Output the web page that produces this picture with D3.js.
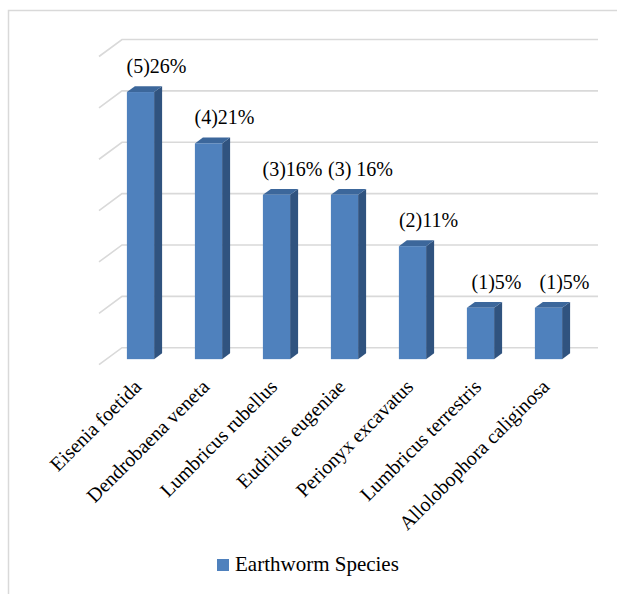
<!DOCTYPE html>
<html>
<head>
<meta charset="utf-8">
<script src="https://cdn.jsdelivr.net/npm/d3@7"></script>
<style>
  html, body { margin: 0; padding: 0; background: #fff; }
  svg { display: block; }
  svg text { font-family: 'Liberation Serif', 'Times New Roman', Tinos, serif; }
</style>
</head>
<body>
<svg id="chart" width="617" height="594" font-family="Liberation Serif"></svg>
<script>
// Earthworm species counts and their share of the total
const species = [
  "Eisenia foetida",
  "Dendrobaena veneta",
  "Lumbricus rubellus",
  "Eudrilus eugeniae",
  "Perionyx excavatus",
  "Lumbricus terrestris",
  "Allolobophora caliginosa"
];
const counts = [5, 4, 3, 3, 2, 1, 1];
const percents = [26, 21, 16, 16, 11, 5, 5];
const valueLabels = ["(5)26%", "(4)21%", "(3)16%", "(3) 16%", "(2)11%", "(1)5%", "(1)5%"];
const yTicks = [0, 5, 10, 15, 20, 25, 30];
const seriesName = "Earthworm Species";

const FONT = "'Liberation Serif'";

const svg = d3.select("#chart");

// outer chart frame
svg.append("rect")
  .attr("x", 8.5).attr("y", 10.5)
  .attr("width", 640).attr("height", 620)
  .attr("fill", "#fff").attr("stroke", "#d9d9d9").attr("stroke-width", 1.5);

// 3D layout: front plane, plus a depth vector pointing to the back wall
const front = { left: 99, right: 575 };
const depth = { dx: 23, dy: -17 };
const barDepth = { dx: 8, dy: -5.9 };
const barInset = 7.5; // distance of a bar's front face behind the front plane (in x)
const insetY = barInset * depth.dy / depth.dx;

const x = d3.scaleBand()
  .domain(species)
  .range([front.left, front.right])
  .paddingInner(0.6)
  .paddingOuter(0.3);

const y = d3.scaleLinear()
  .domain([0, 30])
  .range([364.7, 56.5]);

// gridlines: short floor diagonal, then across the back wall
const grid = svg.append("g").attr("fill", "none").attr("stroke", "#d9d9d9").attr("stroke-width", 1.6);
yTicks.forEach(t => {
  const yf = y(t);
  const xb = front.left + depth.dx, yb = yf + depth.dy;
  grid.append("path")
    .attr("d", `M${front.left},${yf}L${xb},${yb}L${front.right + depth.dx},${yb}`);
});

// bars
const colors = { front: "#4f81bd", side: "#30537f", top: "#3c679b" };
const bars = svg.append("g");
species.forEach((s, i) => {
  const v = percents[i];
  const x0 = x(s) + barInset, x1 = x0 + x.bandwidth();
  const yTop = y(v) + insetY, yBot = y(0) + insetY;
  const g = bars.append("g");
  // side face
  g.append("path")
    .attr("d", `M${x1},${yTop}L${x1 + barDepth.dx},${yTop + barDepth.dy}L${x1 + barDepth.dx},${yBot + barDepth.dy}L${x1},${yBot}Z`)
    .attr("fill", colors.side);
  // top face
  g.append("path")
    .attr("d", `M${x0},${yTop}L${x0 + barDepth.dx},${yTop + barDepth.dy}L${x1 + barDepth.dx},${yTop + barDepth.dy}L${x1},${yTop}Z`)
    .attr("fill", colors.top);
  // front face
  g.append("rect")
    .attr("x", x0).attr("y", yTop)
    .attr("width", x.bandwidth()).attr("height", yBot - yTop)
    .attr("fill", colors.front);

  // value label
  svg.append("text")
    .attr("x", (x0 + x1) / 2 + 16)
    .attr("y", yTop - 19)
    .attr("text-anchor", "middle")
    .style("font-family", FONT)
    .attr("font-size", 20)
    .text(valueLabels[i]);
});

// category labels, rotated
const cat = svg.append("g");
species.forEach(s => {
  const cx = x(s) + barInset + x.bandwidth() / 2;
  cat.append("text")
    .attr("transform", `translate(${cx + 2},${388}) rotate(-45)`)
    .attr("text-anchor", "end")
    .style("font-family", FONT)
    .attr("font-size", 20)
    .text(s);
});

// legend
const legend = svg.append("g").attr("transform", "translate(217,559)");
legend.append("rect").attr("width", 12).attr("height", 12).attr("fill", colors.front);
legend.append("text").attr("x", 18).attr("y", 12)
  .style("font-family", FONT)
  .attr("font-size", 21)
  .text(seriesName);
</script>
</body>
</html>
